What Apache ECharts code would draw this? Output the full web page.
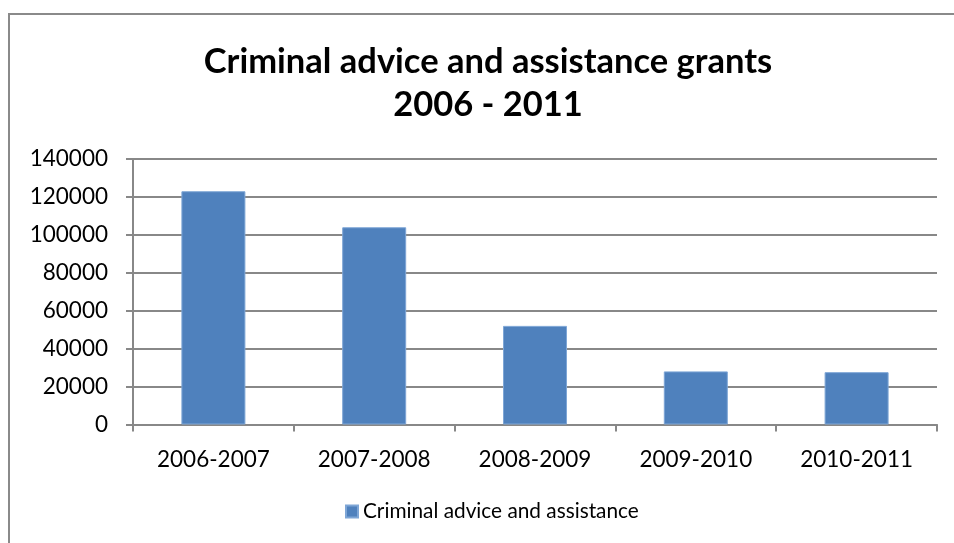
<!DOCTYPE html>
<html>
<head>
<meta charset="utf-8">
<script src="https://cdn.jsdelivr.net/npm/echarts@6/dist/echarts.min.js"></script>
<style>
  html, body { margin: 0; padding: 0; background: #fff; }
  #chart { width: 954px; height: 543px; }
</style>
</head>
<body>
<div id="chart"></div>
<script>
// Grant periods and amounts
const periods = ['2006-2007', '2007-2008', '2008-2009', '2009-2010', '2010-2011'];
const grants = [123000, 104000, 52000, 28000, 27600];
const seriesName = 'Criminal advice and assistance';
const yMin = 0, yMax = 140000, yStep = 20000;

const chart = echarts.init(document.getElementById('chart'));
const fontFamily = 'Lato, "Open Sans", sans-serif';

chart.setOption({
  animation: false,
  backgroundColor: '#fff',
  graphic: [{
    type: 'rect',
    shape: { x: 9, y: 14, width: 960, height: 560 },
    style: { fill: 'none', stroke: '#8a8a8a', lineWidth: 2 },
    silent: true
  }],
  title: {
    text: 'Criminal advice and assistance grants\n2006 - 2011',
    left: 483,
    textAlign: 'center',
    top: 35,
    textStyle: {
      fontFamily: fontFamily,
      fontWeight: 'bold',
      fontSize: 34.5,
      lineHeight: 43,
      color: '#000'
    }
  },
  legend: {
    bottom: 16,
    left: 340,
    itemWidth: 12,
    itemHeight: 12,
    itemGap: 5,
    icon: 'rect',
    textStyle: { fontFamily: fontFamily, fontSize: 20.8, color: '#000' },
    data: [seriesName]
  },
  grid: { left: 133, right: 17, top: 159, bottom: 118.5 },
  xAxis: {
    type: 'category',
    data: periods,
    axisLine: { lineStyle: { color: '#888', width: 2 } },
    axisTick: { show: true, length: 7, alignWithLabel: false, lineStyle: { color: '#888', width: 2 } },
    axisLabel: { margin: 24, fontFamily: fontFamily, fontSize: 22.5, color: '#000' }
  },
  yAxis: {
    type: 'value',
    min: yMin,
    max: yMax,
    interval: yStep,
    axisLine: { show: true, lineStyle: { color: '#888', width: 2 } },
    axisTick: { show: true, length: 7, lineStyle: { color: '#888', width: 2 } },
    splitLine: { lineStyle: { color: '#888', width: 2 } },
    axisLabel: {
      margin: 25, fontFamily: fontFamily, fontSize: 22.5, color: '#000',
      formatter: v => String(v)
    }
  },
  series: [{
    name: seriesName,
    type: 'bar',
    data: grants,
    barWidth: 64,
    itemStyle: { color: '#4F81BD', borderColor: '#7ea6d6', borderWidth: 1 }
  }]
});
</script>
</body>
</html>
